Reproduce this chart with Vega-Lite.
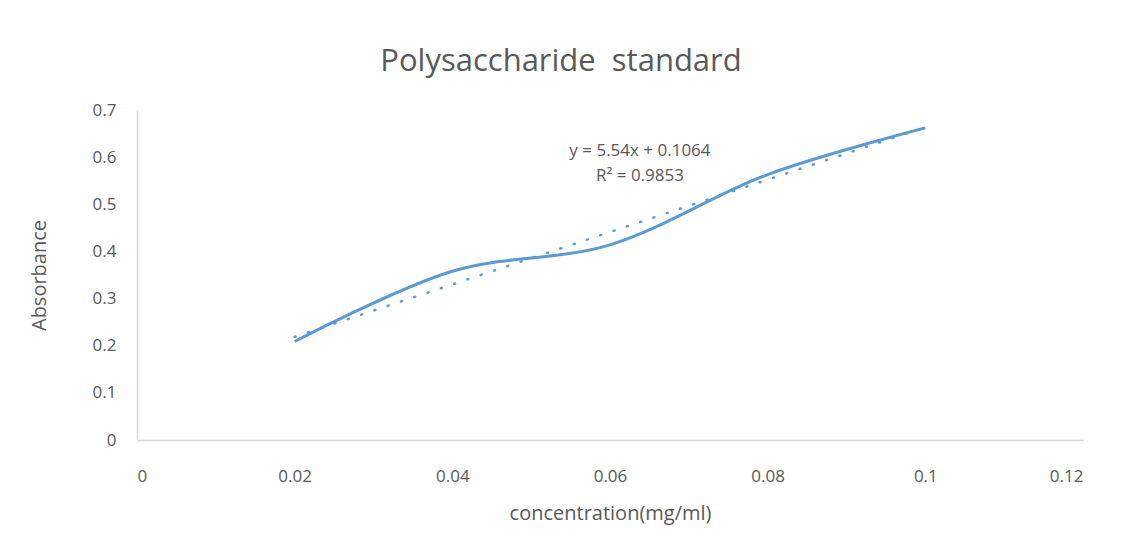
{
  "$schema": "https://vega.github.io/schema/vega-lite/v6.json",
  "autosize": "none",
  "width": 946,
  "height": 330,
  "padding": {"left": 137, "top": 110, "right": 48, "bottom": 95},
  "background": "white",
  "title": {
    "text": "Polysaccharide\u00a0 standard",
    "font": "Open Sans",
    "fontSize": 31,
    "fontWeight": "normal",
    "color": "#595959",
    "anchor": "middle",
    "dx": -49,
    "offset": 23
  },
  "config": {
    "view": {"stroke": null},
    "axis": {
      "labelFont": "Open Sans",
      "titleFont": "Open Sans",
      "labelColor": "#595959",
      "titleColor": "#595959",
      "labelFontSize": 17,
      "titleFontSize": 20,
      "titleFontWeight": "normal",
      "grid": false,
      "ticks": false,
      "domainColor": "#d9d9d9",
      "domainWidth": 1.5
    }
  },
  "data": {
    "values": [
      {"x": 0.02, "y": 0.209},
      {"x": 0.04, "y": 0.358},
      {"x": 0.06, "y": 0.414},
      {"x": 0.08, "y": 0.563},
      {"x": 0.1, "y": 0.662}
    ]
  },
  "layer": [
    {
      "transform": [{"regression": "y", "on": "x", "extent": [0.02, 0.1]}],
      "mark": {"type": "line", "color": "#5B9BD5", "strokeWidth": 2.5, "strokeDash": [1, 13], "strokeCap": "round"},
      "encoding": {
        "x": {"field": "x", "type": "quantitative"},
        "y": {"field": "y", "type": "quantitative"}
      }
    },
    {
      "mark": {"type": "line", "color": "#5B9BD5", "strokeWidth": 3, "interpolate": "catmull-rom"},
      "encoding": {
        "x": {
          "field": "x",
          "type": "quantitative",
          "scale": {"domain": [0, 0.12], "nice": false},
          "axis": {"values": [0, 0.02, 0.04, 0.06, 0.08, 0.1, 0.12], "labelPadding": 28, "title": "concentration(mg/ml)", "titlePadding": 19, "labelExpr": "datum.value == 0 ? '0' : format(datum.value, '.2~f')"}
        },
        "y": {
          "field": "y",
          "type": "quantitative",
          "scale": {"domain": [0, 0.7], "nice": false},
          "axis": {"values": [0, 0.1, 0.2, 0.3, 0.4, 0.5, 0.6, 0.7], "labelPadding": 21, "title": "Absorbance", "titlePadding": 43, "labelExpr": "datum.value == 0 ? '0' : format(datum.value, '.1f')"}
        }
      }
    },
    {
      "data": {"values": [{"x": 0.0638, "y": 0.613, "t": "y = 5.54x + 0.1064"}, {"x": 0.0638, "y": 0.56, "t": "R² = 0.9853"}]},
      "mark": {"type": "text", "font": "Open Sans", "fontSize": 17, "color": "#595959", "align": "center", "baseline": "middle"},
      "encoding": {
        "x": {"field": "x", "type": "quantitative"},
        "y": {"field": "y", "type": "quantitative"},
        "text": {"field": "t"}
      }
    }
  ]
}
